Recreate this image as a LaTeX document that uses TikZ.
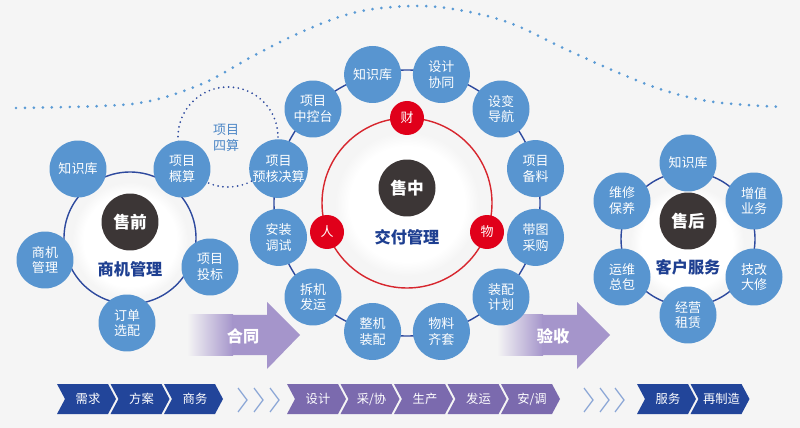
\documentclass[tikz,border=0pt]{standalone}
\usepackage{fontspec}
\setmainfont{Noto Sans CJK SC}
\usetikzlibrary{calc}

\definecolor{bgc}{HTML}{F5F5F5}
\definecolor{satc}{HTML}{5895D0}
\definecolor{hubc}{HTML}{3C3636}
\definecolor{navy}{HTML}{2E4A9E}
\definecolor{titc}{HTML}{1E3F91}
\definecolor{redc}{HTML}{E0001A}
\definecolor{ringred}{HTML}{D7262E}
\definecolor{dotc}{HTML}{5B9BD5}
\definecolor{arrc}{HTML}{A595CB}
\definecolor{chb}{HTML}{22459A}
\definecolor{chp}{HTML}{7B6AAE}
\definecolor{chl}{HTML}{8AA6D6}
\definecolor{sitc}{HTML}{4B86C6}

\pgfdeclareradialshading{glow}{\pgfpoint{0bp}{0bp}}{color(0bp)=(white); color(20bp)=(white); color(25bp)=(bgc); color(50bp)=(bgc)}

\begin{document}
\begin{tikzpicture}[x=0.02cm, y=-0.02cm,
  sat/.style={circle, fill=satc, text=white, minimum size=1.14cm, inner sep=0pt, align=center, font=\fontsize{7.4}{9}\selectfont},
  hub/.style={circle, fill=hubc, text=white, minimum size=1.14cm, inner sep=0pt, font=\fontsize{9.5}{11}\bfseries},
  tag/.style={circle, fill=redc, text=white, minimum size=0.68cm, inner sep=0pt, font=\fontsize{7.4}{9}\selectfont},
  title/.style={text=titc, font=\fontsize{9.2}{11}\bfseries},
  ring/.style={draw=navy, line width=0.8pt},
  dotline/.style={draw=dotc, line width=1.7pt, dash pattern=on 0pt off 5.1pt, line cap=round},
  chevtxt/.style={text=white, font=\fontsize{7}{8}\selectfont},
  arrtxt/.style={text=white, font=\fontsize{9.2}{11}\bfseries}]
\path [fill=bgc] (0,0) rectangle (800,428);
\useasboundingbox (0,0) rectangle (800,428);

% top dotted wave
\path [dotline] plot [smooth, tension=0.6] coordinates {(16,108) (100,106) (150,101) (204,83) (255,55) (306,30) (357,12) (413,6) (459,10) (510,23) (561,47) (612,70) (663,90) (714,102) (783,107)};

% centres
\coordinate (pre) at (130,238);
\coordinate (mid) at (407,203);
\coordinate (post) at (688,239);

% soft white discs
\shade [shading=glow] (130,240) circle (58);
\shade [shading=glow] (407,204) circle (72);
\shade [shading=glow] (687,243) circle (57);

% big arrows (behind the circles)
\shade [left color=bgc, right color=arrc] (187,315) rectangle (233,355);
\path [fill=arrc] (232,315) -- (267,315) -- (267,302) -- (300,335) -- (267,369) -- (267,355) -- (232,355) -- cycle;
\node [arrtxt] (hetong) at (243,336) {合同};
\shade [left color=bgc, right color=arrc] (497,315) rectangle (543,355);
\path [fill=arrc] (542,315) -- (577,315) -- (577,302) -- (610,335) -- (577,369) -- (577,355) -- (542,355) -- cycle;
\node [arrtxt] (yanshou) at (553,336) {验收};

% rings
\path [ring] (pre) circle (66);
\path [ring] (mid) circle (133);
\path [ring] (post) circle (67);
\path [draw=ringred, line width=0.8pt] (mid) circle (85);

% project estimate loop
\path [draw=navy, line width=1.1pt, dash pattern=on 0pt off 2.8pt, line cap=round] (228,137) circle (50);
\node [text=sitc, align=center, font=\fontsize{7.4}{9}\selectfont] (sisuan) at (226,138) {项目\\四算};

% pre-sale
\node [sat] (l1) at (78,169) {知识库};
\node [sat] (l2) at (182,169) {项目\\概算};
\node [sat] (l3) at (45,260) {商机\\管理};
\node [sat] (l4) at (210,267) {项目\\投标};
\node [sat] (l5) at (127,323) {订单\\选配};
\node [hub] (shouqian) at (130,222) {售前};
\node [title] (sjgl) at (130,269) {商机管理};

% in-sale
\node [sat] (m1) at (372.6,74.5) {知识库};
\node [sat] (m2) at (441.4,74.5) {设计\\协同};
\node [sat] (m3) at (501,109) {设变\\导航};
\node [sat] (m4) at (535.5,168.6) {项目\\备料};
\node [sat] (m5) at (535.5,237.4) {带图\\采购};
\node [sat] (m6) at (501,297) {装配\\计划};
\node [sat] (m7) at (441.4,331.5) {物料\\齐套};
\node [sat] (m8) at (372.6,331.5) {整机\\装配};
\node [sat] (m9) at (313,297) {拆机\\发运};
\node [sat] (m10) at (278.5,237.4) {安装\\调试};
\node [sat] (m11) at (278.5,168.6) {项目\\预核决算};
\node [sat] (m12) at (313,109) {项目\\中控台};
\node [tag] (cai) at (407,118) {财};
\node [tag] (ren) at (327,232) {人};
\node [tag] (wu) at (487,232) {物};
\node [hub] (shouzhong) at (407,188) {售中};
\node [title] (jfgl) at (407,237) {交付管理};

% after-sale
\node [sat] (r1) at (688,163) {知识库};
\node [sat] (r2) at (754,201) {增值\\业务};
\node [sat] (r3) at (754,277) {技改\\大修};
\node [sat] (r4) at (688,315) {经营\\租赁};
\node [sat] (r5) at (622,277) {运维\\总包};
\node [sat] (r6) at (622,201) {维修\\保养};
\node [hub] (shouhou) at (688,221) {售后};
\node [title] (khfw) at (688,267) {客户服务};

% process bar
\foreach \x/\t/\c [count=\i] in {57/需求/chb, 110.5/方案/chb, 164/商务/chb, 287/设计/chp, 340.5/{采/协}/chp, 394/生产/chp, 447.5/发运/chp, 501/{安/调}/chp, 637/服务/chb, 690.5/再制造/chb} {
  \path [fill=\c] (\x,384) -- (\x+51,384) -- (\x+59,399) -- (\x+51,414) -- (\x,414) -- (\x+8,399) -- cycle;
  \node [chevtxt] (s\i) at (\x+31,399) {\t};
}
\foreach \x in {238,254,270,584,600,615}
  \path [draw=chl, line width=0.7pt] (\x,388) -- (\x+9,400) -- (\x,412);
\end{tikzpicture}
\end{document}
